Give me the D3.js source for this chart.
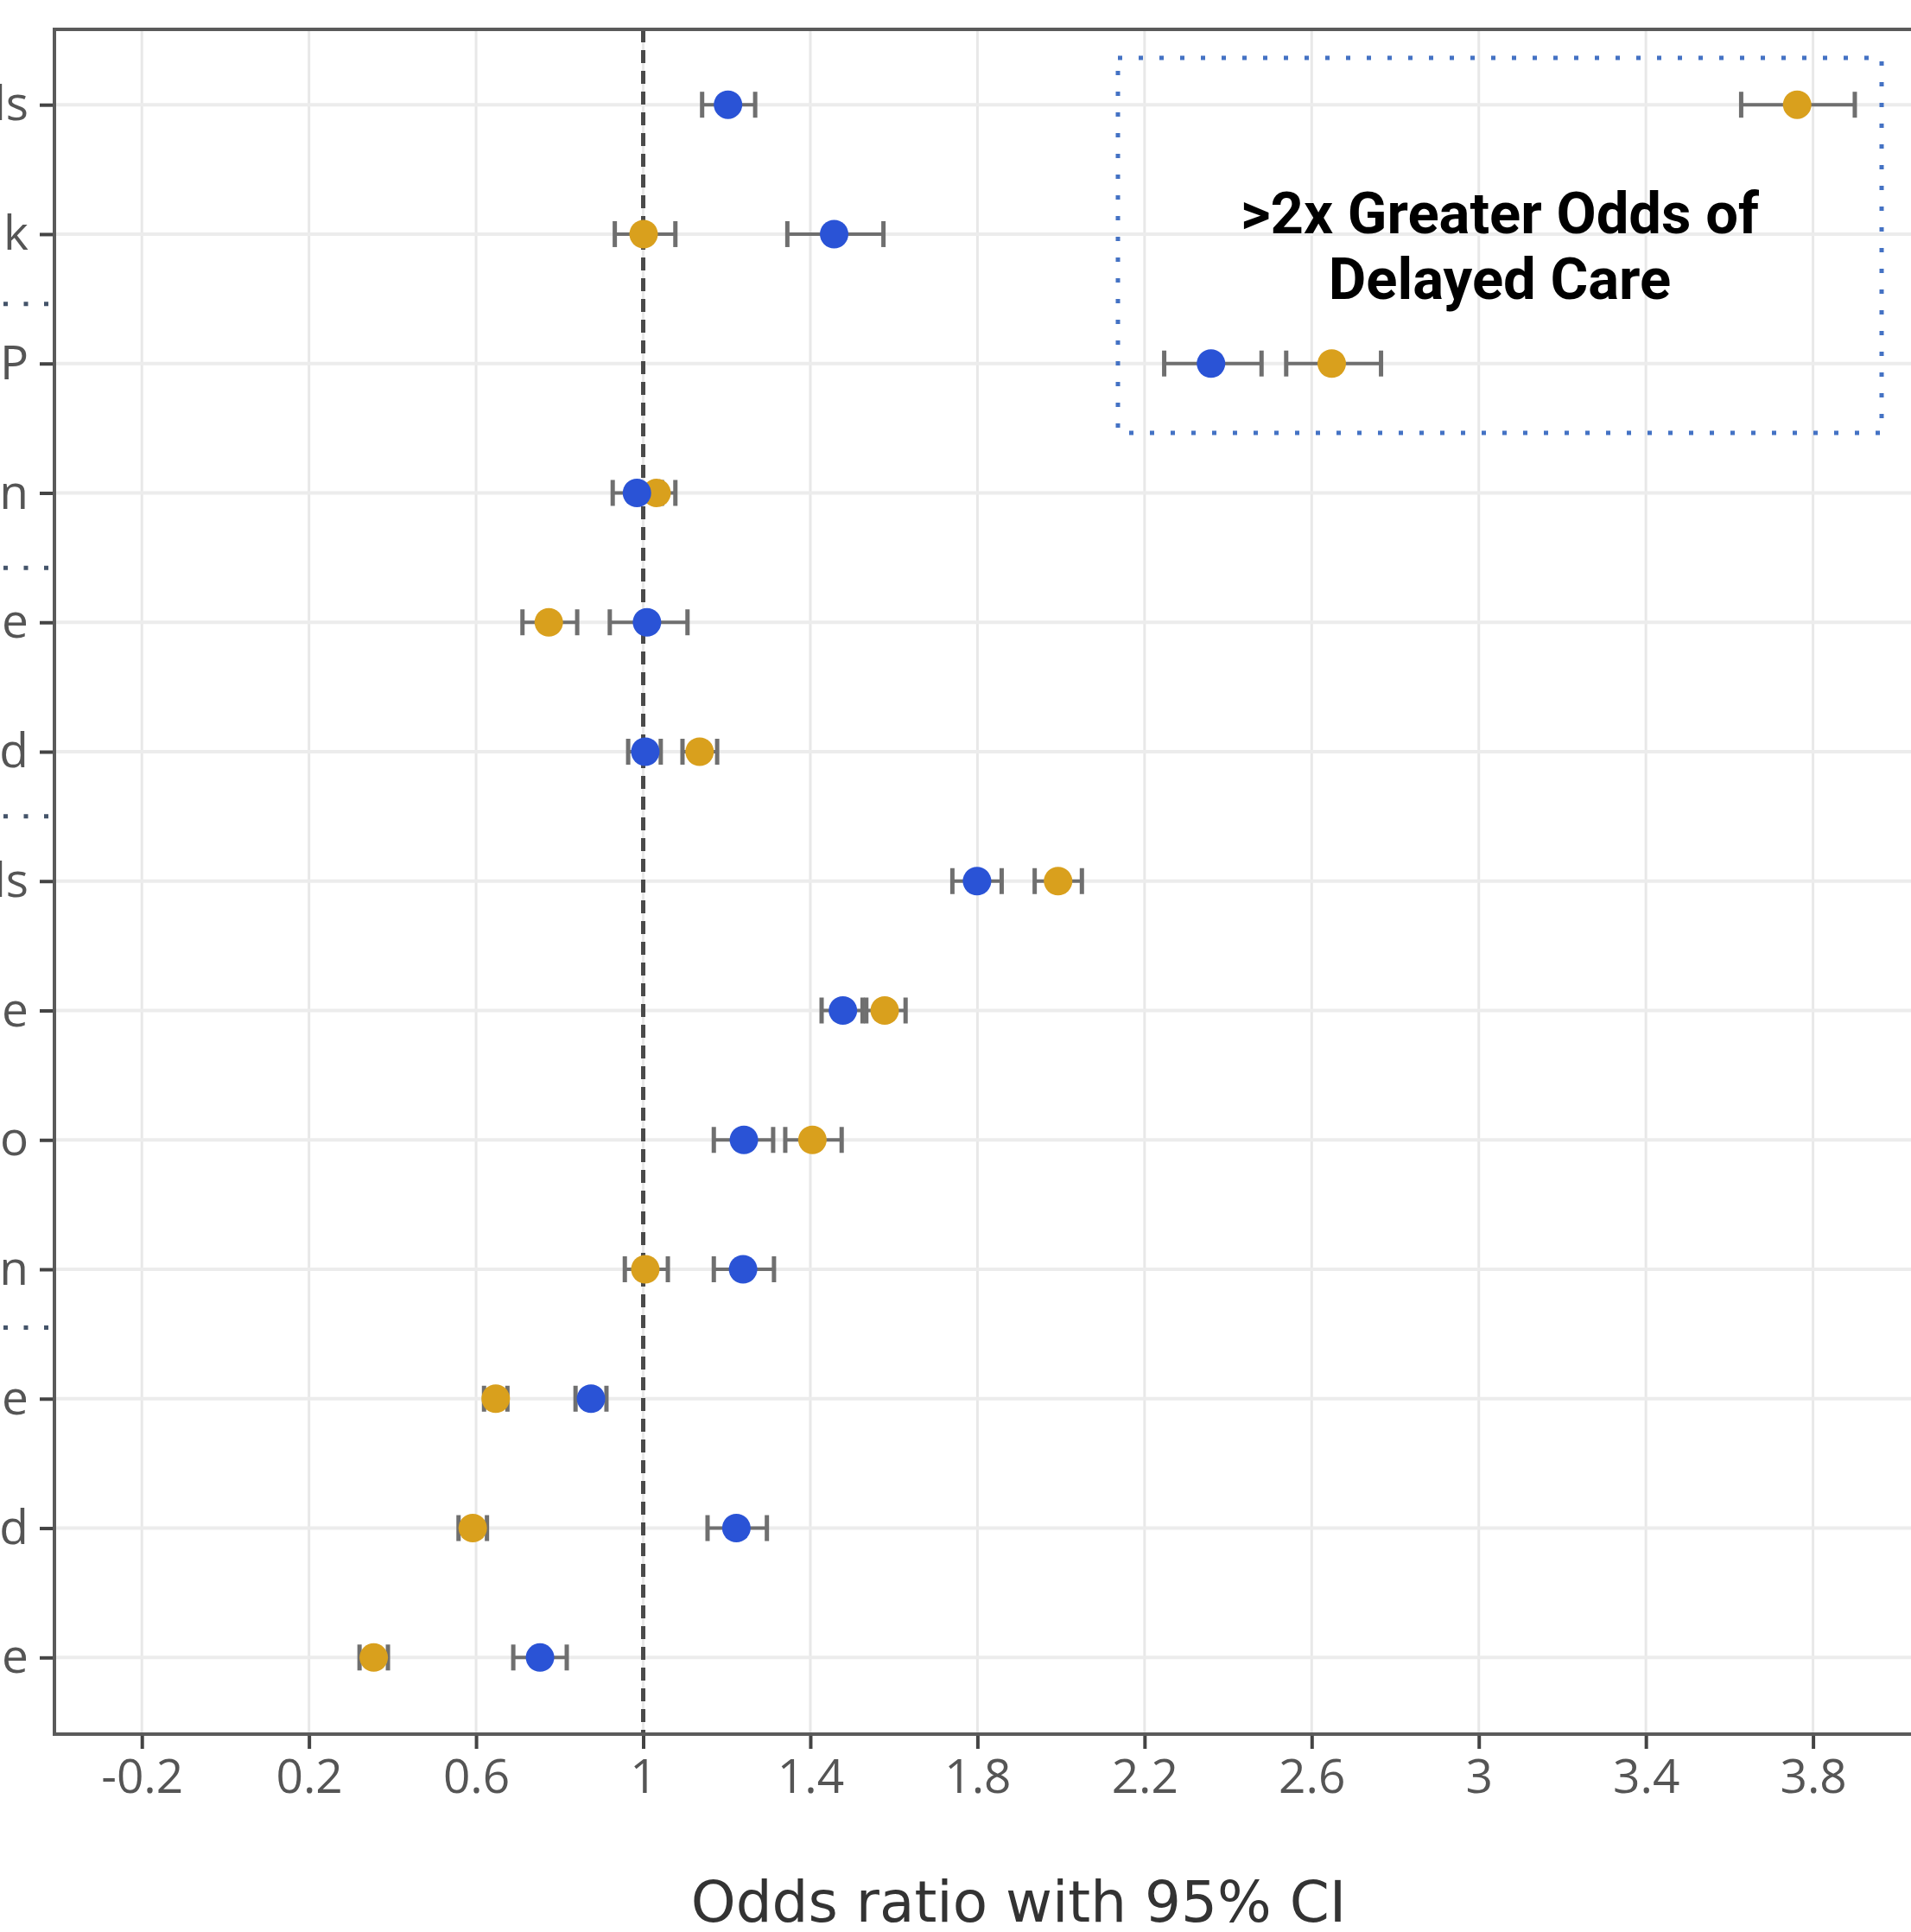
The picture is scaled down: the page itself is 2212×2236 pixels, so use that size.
<!DOCTYPE html>
<html>
<head>
<meta charset="utf-8">
<title>Odds ratio with 95% CI</title>
<style>
  html, body { margin: 0; padding: 0; background: #fff; }
  svg { display: block; }
  .tick text { font-family: "Open Sans", sans-serif; }
</style>
<script src="https://cdn.jsdelivr.net/npm/d3@7"></script>
</head>
<body>
<svg width="2212" height="2236"></svg>
<script>
// row labels (only the right end of each label is visible in the picture)
var rows = ["ls", "k", "P", "n", "e", "d", "ls", "e", "o", "n", "e", "d", "e"];

// blue series: odds ratio and 95% CI
var blueOR = [1.203, 1.457, 2.359, 0.985, 1.009, 1.005, 1.799, 1.478, 1.241, 1.239, 0.875, 1.223, 0.753];
var blueLo = [1.141, 1.345, 2.247, 0.927, 0.920, 0.964, 1.740, 1.427, 1.169, 1.169, 0.838, 1.154, 0.689];
var blueHi = [1.268, 1.575, 2.480, 1.045, 1.106, 1.042, 1.858, 1.525, 1.311, 1.313, 0.912, 1.296, 0.817];

// gold series
var goldOR = [3.762, 1.001, 2.648, 1.032, 0.774, 1.135, 1.993, 1.578, 1.405, 1.005, 0.647, 0.592, 0.355];
var goldLo = [3.628, 0.932, 2.539, 0.990, 0.711, 1.094, 1.937, 1.534, 1.340, 0.956, 0.619, 0.558, 0.321];
var goldHi = [3.900, 1.077, 2.766, 1.077, 0.842, 1.177, 2.050, 1.628, 1.475, 1.059, 0.675, 0.626, 0.389];

var xTicks = [-0.2, 0.2, 0.6, 1, 1.4, 1.8, 2.2, 2.6, 3, 3.4, 3.8];

// group separators, in row units
var separators = [1.54, 3.58, 5.5, 9.45];

var svg = d3.select("svg"),
    panel = {left: 63, top: 34, right: 2300, bottom: 2007};

var x = d3.scaleLinear().domain([-0.2, 3.8]).range([164.2, 2098.6]);
var y = d3.scaleLinear().domain([0, rows.length - 1]).range([121.2, 1918.3]);

var blueC = "#2a53d6", goldC = "#d9a01d", barC = "#6f6f6f";

function series(or, lo, hi, color) {
  return or.map(function(d, i) { return {i: i, or: d, lo: lo[i], hi: hi[i], color: color}; });
}
var gold = series(goldOR, goldLo, goldHi, goldC),
    blue = series(blueOR, blueLo, blueHi, blueC);

// grid
var grid = svg.append("g");
grid.selectAll(".vg").data(xTicks).enter().append("line")
    .attr("x1", function(d) { return x(d); }).attr("x2", function(d) { return x(d); })
    .attr("y1", panel.top).attr("y2", panel.bottom)
    .attr("stroke", "#e8e8e8").attr("stroke-width", 3);
grid.selectAll(".hg").data(rows).enter().append("line")
    .attr("x1", panel.left).attr("x2", panel.right)
    .attr("y1", function(d, i) { return y(i); }).attr("y2", function(d, i) { return y(i); })
    .attr("stroke", "#ececec").attr("stroke-width", 4);

// reference line at OR = 1
svg.append("line")
    .attr("x1", x(1)).attr("x2", x(1))
    .attr("y1", panel.top).attr("y2", panel.bottom)
    .attr("stroke", "#4a4a4a").attr("stroke-width", 5)
    .attr("stroke-dasharray", "15 9");

// axes
var xAxis = svg.append("g")
    .attr("transform", "translate(0," + panel.bottom + ")")
    .call(d3.axisBottom(x).tickValues(xTicks).tickSize(17).tickPadding(12)
      .tickFormat(function(d) { return String(+d.toFixed(1)); }));
xAxis.select(".domain").remove();
xAxis.selectAll(".tick line").attr("stroke", "#444").attr("stroke-width", 4);
xAxis.selectAll(".tick text").attr("font-size", 55).attr("fill", "#555");

var yAxis = svg.append("g")
    .attr("transform", "translate(" + panel.left + ",0)")
    .call(d3.axisLeft(y).tickValues(d3.range(rows.length)).tickSize(17).tickPadding(13)
      .tickFormat(function(i) { return rows[i]; }));
yAxis.select(".domain").remove();
yAxis.selectAll(".tick line").attr("stroke", "#444").attr("stroke-width", 4);
yAxis.selectAll(".tick text").attr("font-size", 55).attr("fill", "#555");

// panel border
svg.append("path")
    .attr("d", "M" + panel.right + "," + panel.top + "H" + panel.left + "V" + panel.bottom + "H" + panel.right)
    .attr("fill", "none").attr("stroke", "#5a5a5a").attr("stroke-width", 4);

// error bars
var all = gold.concat(blue);
var bars = svg.append("g").attr("stroke", barC).attr("stroke-width", 4);
bars.selectAll(".bar").data(all).enter().append("line")
    .attr("x1", function(d) { return x(d.lo); }).attr("x2", function(d) { return x(d.hi); })
    .attr("y1", function(d) { return y(d.i); }).attr("y2", function(d) { return y(d.i); });
bars.selectAll(".capl").data(all).enter().append("line")
    .attr("x1", function(d) { return x(d.lo); }).attr("x2", function(d) { return x(d.lo); })
    .attr("y1", function(d) { return y(d.i) - 15; }).attr("y2", function(d) { return y(d.i) + 15; })
    .attr("stroke-width", 5);
bars.selectAll(".capr").data(all).enter().append("line")
    .attr("x1", function(d) { return x(d.hi); }).attr("x2", function(d) { return x(d.hi); })
    .attr("y1", function(d) { return y(d.i) - 15; }).attr("y2", function(d) { return y(d.i) + 15; })
    .attr("stroke-width", 5);

// points
svg.append("g").selectAll("circle").data(all).enter().append("circle")
    .attr("cx", function(d) { return x(d.or); })
    .attr("cy", function(d) { return y(d.i); })
    .attr("r", 16.5)
    .attr("fill", function(d) { return d.color; });

// separators in the left margin
svg.append("g").selectAll("line").data(separators).enter().append("line")
    .attr("x1", 4).attr("x2", 60)
    .attr("y1", function(d) { return y(d); }).attr("y2", function(d) { return y(d); })
    .attr("stroke", "#44546a").attr("stroke-width", 5)
    .attr("stroke-dasharray", "5 18.5");

// annotation box
svg.append("rect")
    .attr("x", 1294).attr("y", 67).attr("width", 884).attr("height", 434)
    .attr("fill", "none").attr("stroke", "#4472c4").attr("stroke-width", 5)
    .attr("stroke-dasharray", "5 19");

var note = svg.append("text")
    .attr("x", 1736).attr("y", 270)
    .attr("text-anchor", "middle")
    .attr("font-family", "Roboto, sans-serif").attr("font-weight", 700)
    .attr("font-size", 67).attr("fill", "#000");
note.append("tspan").attr("x", 1736).text(">2x Greater Odds of");
note.append("tspan").attr("x", 1736).attr("dy", 76).text("Delayed Care");

// x axis title
svg.append("text")
    .attr("x", 1179).attr("y", 2224)
    .attr("text-anchor", "middle")
    .attr("font-family", "DejaVu Sans, sans-serif")
    .attr("font-size", 66).attr("fill", "#333")
    .text("Odds ratio with 95% CI");
</script>
</body>
</html>
